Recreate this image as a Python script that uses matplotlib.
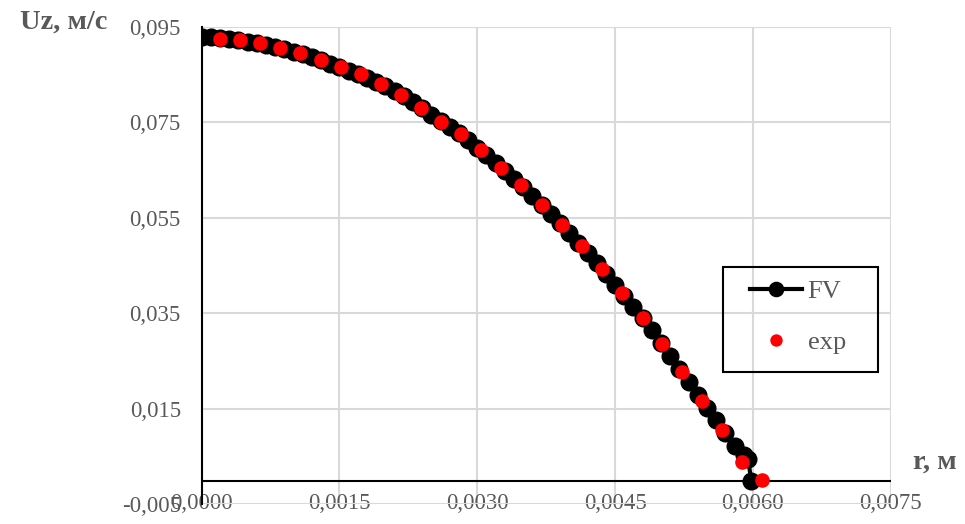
import numpy as np
import matplotlib.pyplot as plt
from matplotlib.ticker import FuncFormatter
from matplotlib.patches import Rectangle

# FV (расчёт)
r_fv = [0.0000, 0.0001, 0.0002, 0.0003, 0.0004, 0.0005, 0.0006, 0.0007, 0.0008, 0.0009,
        0.0010, 0.0011, 0.0012, 0.0013, 0.0014, 0.0015, 0.0016, 0.0017, 0.0018, 0.0019,
        0.0020, 0.0021, 0.0022, 0.0023, 0.0024, 0.0025, 0.0026, 0.0027, 0.0028, 0.0029,
        0.0030, 0.0031, 0.0032, 0.0033, 0.0034, 0.0035, 0.0036, 0.0037, 0.0038, 0.0039,
        0.0040, 0.0041, 0.0042, 0.0043, 0.0044, 0.0045, 0.0046, 0.0047, 0.0048, 0.0049,
        0.0050, 0.0051, 0.0052, 0.0053, 0.0054, 0.0055, 0.0056, 0.0057, 0.0058, 0.0059,
        0.00595, 0.00598]
uz_fv = [0.0929, 0.0928, 0.0926, 0.0924, 0.0922, 0.0919, 0.0916, 0.0912, 0.0908, 0.0903,
         0.0898, 0.0892, 0.0886, 0.0880, 0.0873, 0.0866, 0.0858, 0.0851, 0.0843, 0.0834,
         0.0825, 0.0815, 0.0805, 0.0792, 0.0779, 0.0765, 0.0752, 0.0740, 0.0727, 0.0712,
         0.0697, 0.0681, 0.0664, 0.0647, 0.0631, 0.0614, 0.0596, 0.0577, 0.0558, 0.0539,
         0.0519, 0.0498, 0.0477, 0.0455, 0.0432, 0.0410, 0.0387, 0.0364, 0.0340, 0.0315,
         0.0288, 0.0261, 0.0234, 0.0207, 0.0180, 0.0152, 0.0126, 0.0100, 0.0072, 0.0054,
         0.0045, 0.0000]

# эксперимент
r_exp = [0.000199, 0.000417, 0.000638, 0.000856, 0.001074, 0.001295, 0.001513, 0.001731,
         0.001952, 0.002166, 0.002387, 0.002605, 0.002819, 0.003037, 0.003258, 0.003479,
         0.003701, 0.003919, 0.004136, 0.004354, 0.004572, 0.004800, 0.005007, 0.005232,
         0.005449, 0.005667, 0.005885, 0.006102]
uz_exp = [0.0925, 0.0922, 0.0916, 0.0906, 0.0894, 0.0880, 0.0866, 0.0850,
          0.0831, 0.0808, 0.0779, 0.0751, 0.0725, 0.0691, 0.0654, 0.0618,
          0.0576, 0.0535, 0.0491, 0.0442, 0.0393, 0.0340, 0.0286, 0.0227,
          0.0166, 0.0106, 0.0039, 0.0001]

xticks = [0.0, 0.0015, 0.0030, 0.0045, 0.0060, 0.0075]
yticks = [-0.005, 0.015, 0.035, 0.055, 0.075, 0.095]

plt.rcParams['font.family'] = ['Liberation Serif', 'DejaVu Serif']
grey = '#595959'

fig = plt.figure(figsize=(9.65, 5.24), dpi=100)
ax = fig.add_axes([0.209, 0.0374, 0.714, 0.9116])

ax.plot(r_fv, uz_fv, '-o', color='black', lw=3, ms=12, label='FV', zorder=3)
ax.plot(r_exp, uz_exp, 'o', color='#ff0000', ms=10.5, mec='none', label='exp', zorder=4)

ax.set_xlim(0, 0.0075)
ax.set_ylim(-0.005, 0.095)
ax.set_xticks(xticks)
ax.set_yticks(yticks)
ax.xaxis.set_major_formatter(FuncFormatter(lambda v, p: f"{v:.4f}".replace('.', ',')))
ax.yaxis.set_major_formatter(FuncFormatter(lambda v, p: f"{v:.3f}".replace('.', ',')))
ax.tick_params(length=0, labelsize=16.5, labelcolor=grey)
ax.tick_params(axis='y', pad=15)
ax.tick_params(axis='x', pad=-1)
for lab in ax.get_xticklabels():
    lab.set_va('center')
ax.grid(color='#d9d9d9', lw=1.5)
ax.set_axisbelow(True)
for s in ['top', 'right', 'bottom']:
    ax.spines[s].set_visible(False)
ax.spines['left'].set_color('black')
ax.spines['left'].set_linewidth(1.5)
ax.axhline(0, color='black', lw=1.5, zorder=2)

fig.text(0.021, 0.957, 'Uz, м/с', fontsize=20.5, fontweight='bold', color=grey, va='center')
fig.text(0.946, 0.118, 'r, м', fontsize=20.5, fontweight='bold', color=grey, va='center')

leg = ax.legend(loc='upper left', bbox_to_anchor=(747/965, 1 - 277/524),
                bbox_transform=fig.transFigure, fontsize=19, frameon=False,
                handlelength=2.0, handletextpad=0.2, borderpad=0.1,
                labelspacing=1.05, borderaxespad=0, markerscale=0.85)
for t in leg.get_texts():
    t.set_color(grey)
fig.patches.append(Rectangle((723/965, 1 - 372/524), 155/965, 105/524,
                             transform=fig.transFigure, fill=False,
                             edgecolor='black', lw=1.5))

fig.savefig('out.png', dpi=100)
